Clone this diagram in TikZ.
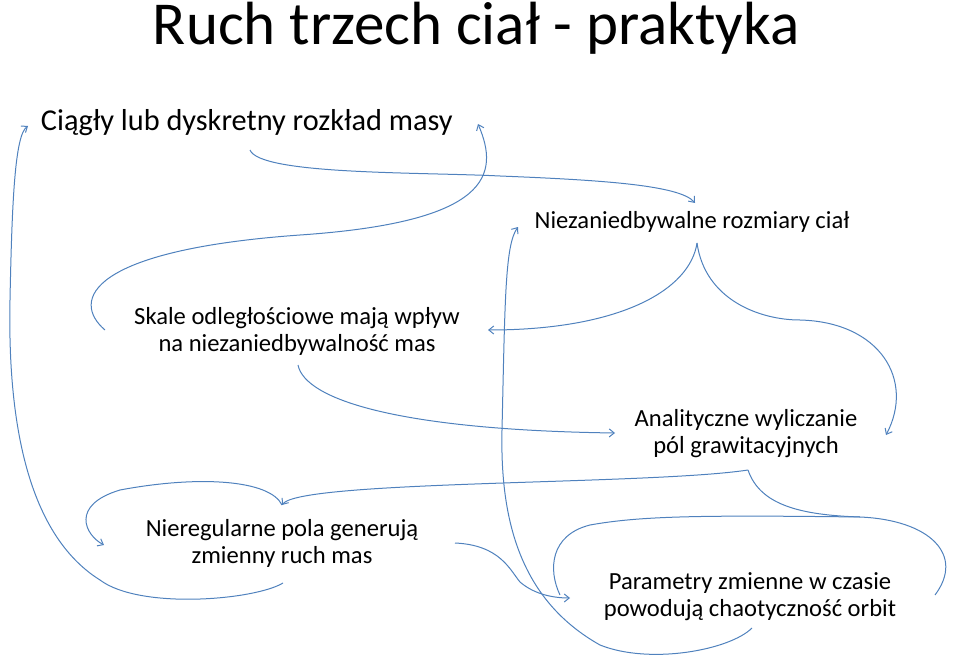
\documentclass[tikz,border=0pt]{standalone}
\usepackage{fontspec}
\setmainfont{Carlito}
\usetikzlibrary{arrows.meta}
\definecolor{linkblue}{RGB}{79,129,189}
\tikzset{
	link/.style={draw=linkblue, line width=1pt, -{Straight Barb[length=5pt,width=8pt]}},
	plain link/.style={draw=linkblue, line width=1pt},
	label text/.style={align=center, font=\fontsize{24.6}{27}\selectfont, inner sep=0.75pt}}

\begin{document}
\begin{tikzpicture}[x=1pt,y=-1pt]
	\useasboundingbox (0,0) rectangle (960,663);
	
	% Texts
	\node (title) at (476,28) [inner sep=0pt, font=\fontsize{61}{66}\selectfont] {Ruch trzech ciał - praktyka};
	\node (mass) at (40,123) [anchor=west, inner sep=0.75pt, font=\fontsize{30.3}{34}\selectfont] {Ciągły lub dyskretny rozkład masy};
	\node (size) at (692,222) [label text] {Niezaniedbywalne rozmiary ciał};
	\node (scale) at (297,331) [label text] {Skale odległościowe mają wpływ\\na niezaniedbywalność mas};
	\node (field) at (746,434) [label text] {Analityczne wyliczanie\\pól grawitacyjnych};
	\node (irreg) at (282,543) [label text] {Nieregularne pola generują\\zmienny ruch mas};
	\node (chaos) at (750,597) [label text] {Parametry zmienne w czasie\\powodują chaotyczność orbit};
	
	% Points
	\coordinate (mass s) at (250,150);
	\coordinate (size n) at (695,203);
	\coordinate (size s) at (697,243);
	\coordinate (scale w) at (105,330);
	\coordinate (scale e) at (488,330);
	\coordinate (scale s) at (298,365);
	\coordinate (mass e) at (478,124);
	\coordinate (field w) at (615,433);
	\coordinate (field e) at (886,435);
	\coordinate (field s) at (748,470);
	\coordinate (irreg n) at (282,505);
	\coordinate (irreg w) at (104,545);
	\coordinate (irreg e) at (455,543);
	\coordinate (irreg s) at (283,583);
	\coordinate (mass w) at (28,126);
	\coordinate (size w) at (518,227);
	\coordinate (chaos w) at (570,598);
	\coordinate (chaos s) at (752,628);
	
	% Connectors
	\draw [link] (mass s) .. controls (260,175) and (420,172) .. (500,176) .. controls (600,180) and (680,185) .. (size n);
	\draw [link] (scale w) .. controls (70,300) and (90,250) .. (300,235) .. controls (490,222) and (500,175) .. (mass e);
	\draw [link] (size s) .. controls (690,290) and (620,330) .. (scale e);
	\draw [link] (size s) .. controls (705,300) and (760,320) .. (800,320) .. controls (880,322) and (915,380) .. (field e);
	\draw [link] (scale s) .. controls (305,400) and (400,430) .. (field w);
	\draw [link] (field s) .. controls (650,485) and (300,480) .. (irreg n);
	\draw [link] (irreg n) .. controls (270,480) and (200,475) .. (120,490) .. controls (70,505) and (85,535) .. (irreg w);
	\draw [link] (irreg s) .. controls (255,600) and (140,610) .. (100,580) .. controls (20,530) and (8,400) .. (10,300) .. controls (12,200) and (15,135) .. (mass w);
	\draw [link] (chaos s) .. controls (730,650) and (650,665) .. (600,645) .. controls (520,600) and (500,520) .. (502,430) .. controls (505,300) and (505,245) .. (size w);
	\draw [link] (irreg e) .. controls (500,545) and (510,570) .. (520,582) .. controls (535,595) and (555,598) .. (chaos w);
	\draw [plain link] (field s) .. controls (760,505) and (800,515) .. (860,517) .. controls (930,520) and (965,555) .. (935,595);
	\draw [plain link] (860,517) .. controls (700,515) and (640,516) .. (590,525) .. controls (550,535) and (548,570) .. (560,595);
\end{tikzpicture}
\end{document}
